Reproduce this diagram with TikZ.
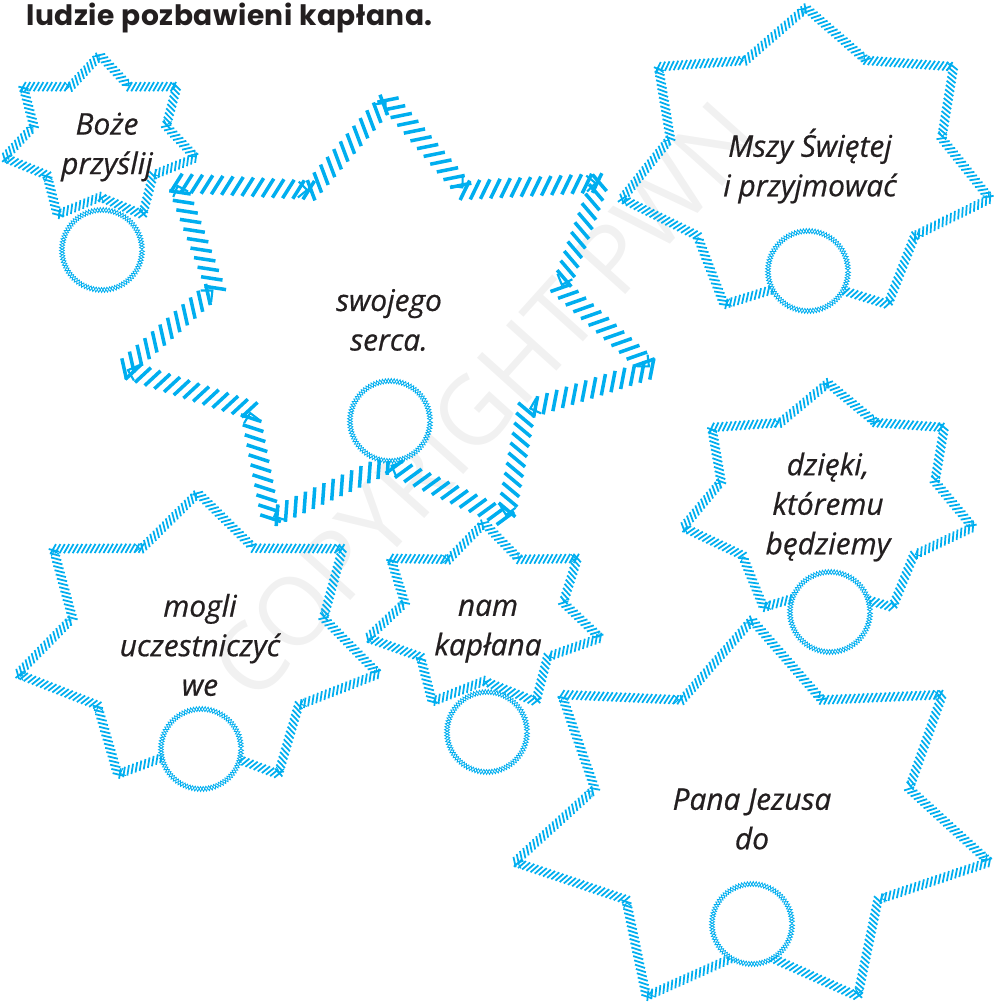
\documentclass[tikz,border=0pt]{standalone}
\usepackage{fontspec}
\setmainfont{Open Sans}
\newfontfamily\starfont{Open Sans}[FakeBold=0.6]
\newfontfamily\titlefont{Poppins}[LetterSpace=2]
\newfontfamily\markfont{Open Sans}
\usetikzlibrary{decorations.markings,decorations.pathmorphing}
\definecolor{pwnblue}{HTML}{00AEEF}
\definecolor{inkblack}{HTML}{231F20}

\tikzset{
  finehatch/.style={decorate, decoration={markings,
      mark=between positions 0 and 1 step 2.5pt with {\draw[pwnblue, line width=1pt] (-1.5pt,-2.6pt) -- (1.5pt,2.6pt);},
      mark=at position .97 with {\draw[pwnblue, line width=.6pt] (-2.6pt,-2.3pt) -- (0,0) -- (-2.6pt,2.3pt);}}},
  boldhatch/.style={decorate, decoration={markings,
      mark=between positions 0 and 1 step 5.8pt with {\draw[pwnblue, line width=2pt] (-3pt,-5.4pt) -- (3pt,5.4pt);},
      mark=at position .97 with {\draw[pwnblue, line width=1.2pt] (-5pt,-4.5pt) -- (0,0) -- (-5pt,4.5pt);}}},
  ring/.style={pwnblue, line width=.45pt, decorate, decoration={zigzag, segment length=3.2pt, amplitude=1.4pt}},
  ringback/.style={ring, decoration={mirror}},
  word/.style={text=inkblack, align=center, font=\starfont\fontsize{17}{22.5}\selectfont\itshape},
}

% seven pointed star: centre x, centre y, outer radius, inner radius, x stretch, hatch style
\newcommand{\heptstar}[6]{%
  \foreach \i in {0,...,13}{%
    \pgfmathsetmacro{\aa}{90-\i*180/7}
    \pgfmathsetmacro{\ab}{90-(\i+1)*180/7}
    \pgfmathsetmacro{\ra}{mod(\i,2)==0 ? #3 : #4}
    \pgfmathsetmacro{\rb}{mod(\i,2)==0 ? #4 : #3}
    \path[#6] ({#1+#5*\ra*cos(\aa)},{#2-\ra*sin(\aa)}) -- ({#1+#5*\rb*cos(\ab)},{#2-\rb*sin(\ab)});
  }}

\begin{document}
\begin{tikzpicture}[x=0.02cm,y=-0.02cm]
    \useasboundingbox (0,0) rectangle (995,1003);

    \node[rotate=48, text=gray!11, font=\markfont\fontsize{54}{54}\selectfont] (wmark) at (485,400) {COPYRIGHT PWN};

    \node[anchor=base west, text=inkblack, font=\titlefont\bfseries\fontsize{16}{18}\selectfont] (title) at (20,26) {ludzie pozbawieni kapłana.};

\heptstar{100}{139}{84}{58}{1.17}{finehatch}
\heptstar{388}{320}{220}{144}{1.23}{boldhatch}
\heptstar{806}{164}{156}{115}{1.21}{finehatch}
\heptstar{828}{501}{118}{87}{1.26}{finehatch}
\heptstar{198}{641}{148}{103}{1.25}{finehatch}
\heptstar{484}{617}{94}{64}{1.27}{finehatch}
\heptstar{752}{818}{198}{131}{1.23}{finehatch}

    \coordinate (ringA) at (102,250);
    \coordinate (ringB) at (390,421);
    \coordinate (ringC) at (808,271);
    \coordinate (ringD) at (830,612);
    \coordinate (ringE) at (201,749);
    \coordinate (ringF) at (487,732);
    \coordinate (ringG) at (752,924);
    \foreach \r in {ringA,ringB,ringC,ringD,ringE,ringF,ringG}{
        \fill[white] (\r) circle (40);
        \draw[ring] (\r) circle (40);
        \draw[ringback] (\r) circle (40);
    }

    \node[word] (boze) at (107,147) {Boże\\przyślij};
    \node[word] (serce) at (389,320) {swojego\\serca.};
    \node[word] (msza) at (810,166) {Mszy Świętej\\i przyjmować};
    \node[word] (dzieki) at (828,507) {dzięki,\\któremu\\będziemy};
    \node[word] (mogli) at (200,645) {mogli\\uczestniczyć\\we};
    \node[word] (nam) at (488,631) {nam\\kapłana};
    \node[word] (pana) at (752,819) {Pana Jezusa\\do};

\end{tikzpicture}
\end{document}
